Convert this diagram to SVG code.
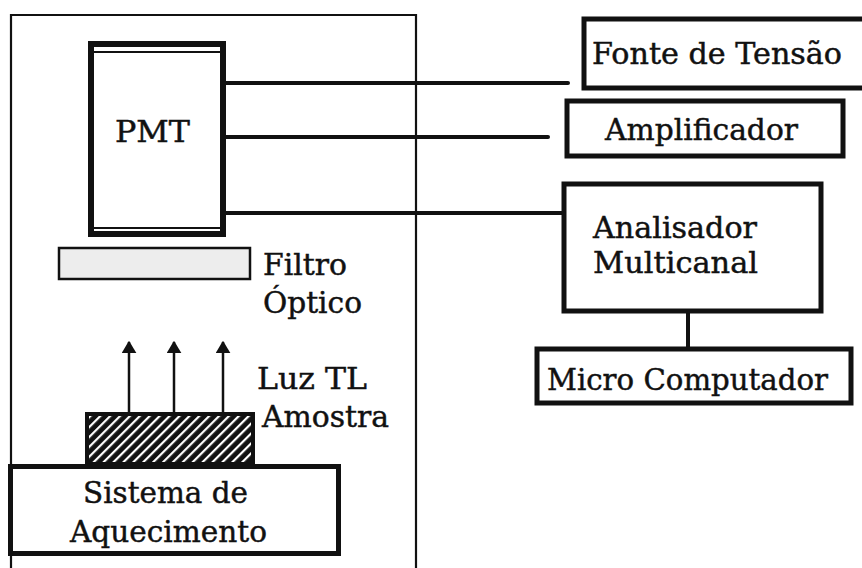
<svg xmlns="http://www.w3.org/2000/svg" width="862" height="568" viewBox="0 0 862 568">
<style>
text{font-family:"DejaVu Serif","Liberation Serif",serif;font-size:29px;fill:#111;stroke:#111;stroke-width:0.45}
.box{fill:#fff;stroke:#111;stroke-width:5}
.wire{stroke:#111;stroke-width:4;stroke-linecap:round;fill:none}
.arr{stroke:#111;stroke-width:2.5;fill:none;marker-end:url(#ah)}
</style>
<defs>
<marker id="ah" viewBox="0 0 10 12" refX="9" refY="6" markerWidth="5" markerHeight="6" orient="auto" markerUnits="strokeWidth">
<path d="M0,0 L10,6 L0,12 Z" fill="#111"/>
</marker>
<pattern id="hatch" width="7" height="7" patternUnits="userSpaceOnUse" patternTransform="rotate(45)">
<rect width="7" height="7" fill="#111"/>
<rect x="0" y="0" width="2.2" height="7" fill="#fff"/>
</pattern>
</defs>
<rect width="862" height="568" fill="#fff"/>
<g id="enclosure">
<path d="M11,575 L11,15 L416,15 L416,575" fill="none" stroke="#111" stroke-width="2.2"/>
</g>
<g id="connectors">
<line class="wire" x1="226" y1="83" x2="568" y2="83"/>
<line class="wire" x1="217" y1="137" x2="548" y2="137"/>
<line class="wire" x1="226" y1="213" x2="562" y2="213"/>
<line class="wire" x1="688" y1="313" x2="688" y2="347" stroke-linecap="butt"/>
<line class="arr" x1="129" y1="412" x2="129" y2="342"/>
<line class="arr" x1="174" y1="412" x2="174" y2="342"/>
<line class="arr" x1="223" y1="412" x2="223" y2="342"/>
</g>
<g id="pmt">
<rect x="91" y="44" width="132" height="190" fill="#fff" stroke="#111" stroke-width="6"/>
<line x1="94" y1="52" x2="220" y2="52" stroke="#111" stroke-width="2"/>
<line x1="94" y1="228" x2="220" y2="228" stroke="#111" stroke-width="2"/>
<text x="115" y="142" textLength="75" lengthAdjust="spacingAndGlyphs">PMT</text>
</g>
<g id="filtro">
<rect x="59" y="248" width="191" height="31" fill="#ededed" stroke="#111" stroke-width="2.5"/>
<text x="263" y="275" textLength="84" lengthAdjust="spacingAndGlyphs">Filtro</text>
<text x="263" y="313" textLength="99" lengthAdjust="spacingAndGlyphs">Óptico</text>
</g>
<g id="luz">
<text x="257" y="389" textLength="110" lengthAdjust="spacingAndGlyphs">Luz TL</text>
</g>
<g id="amostra">
<rect x="87" y="414" width="166" height="50" fill="url(#hatch)" stroke="#111" stroke-width="4"/>
<text x="262" y="427" textLength="127" lengthAdjust="spacingAndGlyphs">Amostra</text>
</g>
<g id="aquecimento">
<rect x="10.5" y="466.5" width="328" height="87" class="box"/>
<text x="83" y="503" textLength="165" lengthAdjust="spacingAndGlyphs">Sistema de</text>
<text x="70" y="542" textLength="197" lengthAdjust="spacingAndGlyphs">Aquecimento</text>
</g>
<g id="fonte">
<rect x="584" y="19" width="290" height="69" class="box"/>
<text x="592" y="64" textLength="250" lengthAdjust="spacingAndGlyphs">Fonte de Tensão</text>
</g>
<g id="amplificador">
<rect x="567" y="101" width="276" height="55" class="box"/>
<text x="605" y="140" textLength="193" lengthAdjust="spacingAndGlyphs">Amplificador</text>
</g>
<g id="analisador">
<rect x="564" y="184" width="257" height="127" class="box"/>
<text x="593" y="238" textLength="164" lengthAdjust="spacingAndGlyphs">Analisador</text>
<text x="593" y="273" textLength="165" lengthAdjust="spacingAndGlyphs">Multicanal</text>
</g>
<g id="micro">
<rect x="537" y="349" width="314" height="54" class="box"/>
<text x="547" y="390" textLength="281" lengthAdjust="spacingAndGlyphs">Micro Computador</text>
</g>
</svg>
